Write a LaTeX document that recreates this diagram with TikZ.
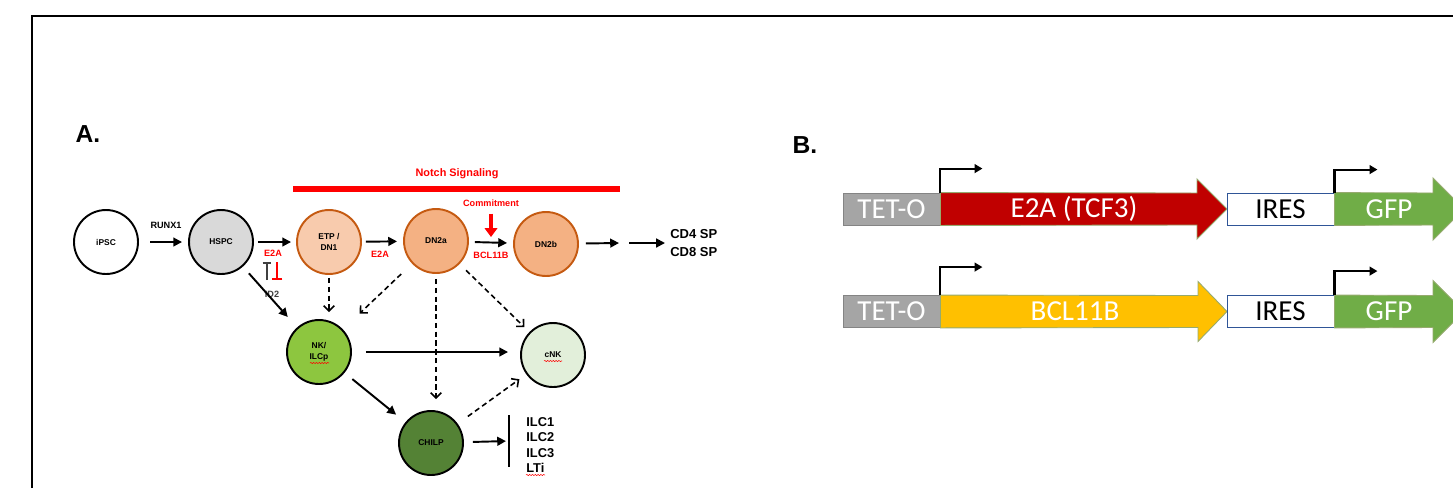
\documentclass[tikz,border=0pt]{standalone}
\usepackage{fontspec}
\setmainfont{Liberation Sans}
\newfontfamily\calibri{Carlito}
\usetikzlibrary{arrows.meta,decorations.pathmorphing}

\definecolor{hspcgray}{RGB}{217,217,217}
\definecolor{etpfill}{RGB}{248,203,173}
\definecolor{dnfill}{RGB}{244,177,131}
\definecolor{dnborder}{RGB}{197,90,17}
\definecolor{nkgreen}{RGB}{141,198,63}
\definecolor{cnkgreen}{RGB}{226,239,218}
\definecolor{chilpgreen}{RGB}{84,130,53}
\definecolor{tetgray}{RGB}{165,165,165}
\definecolor{e2ared}{RGB}{192,0,0}
\definecolor{bclyellow}{RGB}{255,192,0}
\definecolor{gfpgreen}{RGB}{112,173,71}
\definecolor{iresblue}{RGB}{47,85,151}
\definecolor{arrowline}{RGB}{150,170,110}

\begin{document}
\begin{tikzpicture}[x=0.02cm, y=-0.02cm,
    cell/.style={circle, draw, line width=1.1pt, minimum size=1.28cm, inner sep=0pt, align=center, font=\fontsize{4.8}{6}\selectfont\bfseries},
    flow/.style={line width=1.1pt, -{Triangle[length=5pt,width=5pt]}},
    maybe/.style={line width=0.9pt, dash pattern=on 3pt off 2pt, -{Straight Barb[length=3pt,width=6pt]}},
    lbl/.style={font=\fontsize{5.2}{6}\selectfont\bfseries},
    redlbl/.style={lbl, text=red},
    part/.style={minimum height=0.64cm, inner sep=0pt, font=\calibri\fontsize{16.5}{18}\selectfont},
    box/.style={part, draw, line width=0.5pt},
    gene/.style={draw=arrowline, line width=0.5pt},
    promoter/.style={line width=1.2pt, -{Triangle[length=4.5pt,width=5pt]}},
    squiggle/.style={red, line width=0.3pt, decorate, decoration={snake, amplitude=0.35pt, segment length=1.6pt}}
  ]
  \fill[white] (0,0) rectangle (1453,488);
  \useasboundingbox (0,0) rectangle (1453,488);
  \draw[line width=1.1pt] (32,488) -- (32,16) -- (1453,16);

  % panel A
  \node[font=\fontsize{14}{16}\selectfont\bfseries] (panela) at (88,134) {A.};
  \node[cell] (ipsc) at (106,242) {iPSC};
  \node[cell, fill=hspcgray] (hspc) at (221,242) {HSPC};
  \node[cell, fill=etpfill, draw=dnborder] (etp) at (329,242) {ETP /\\DN1};
  \node[cell, fill=dnfill, draw=dnborder] (dn2a) at (436,241) {DN2a};
  \node[cell, fill=dnfill, draw=dnborder] (dn2b) at (546,244) {DN2b};
  \node[cell, fill=nkgreen] (nk) at (319,352) {NK/\\ILCp};
  \node[cell, fill=cnkgreen] (cnk) at (553,355) {cNK};
  \node[cell, fill=chilpgreen] (chilp) at (431,443) {CHILP};

  \fill[red] (293,186) rectangle (620,192);
  \node[redlbl, font=\fontsize{6.2}{7}\selectfont\bfseries] (notch) at (457,174) {Notch Signaling};
  \node[redlbl] (commit) at (491,203) {Commitment};
  \coordinate (commitpt) at (491,237);
  \draw[red, line width=1.8pt, shorten <=0.02cm, -{Triangle[length=5pt,width=7pt]}] (commit) -- (commitpt);

  \draw[flow, shorten <=0.23cm, shorten >=0.12cm] (ipsc) -- (hspc);
  \draw[flow, shorten <=0.08cm, shorten >=0.1cm] (hspc) -- (etp);
  \draw[flow, shorten <=0.08cm, shorten >=0.12cm] (etp) -- (dn2a);
  \draw[flow, shorten <=0.12cm, shorten >=0.12cm] (dn2a) -- (dn2b);
  \coordinate (out1) at (619,243);
  \coordinate (out2) at (629,243);
  \node[lbl, font=\fontsize{7.4}{9.7}\selectfont\bfseries, align=left, anchor=west, inner sep=0pt] (tcell) at (670,243) {CD4 SP\\CD8 SP};
  \draw[flow, shorten <=0.14cm] (dn2b) -- (out1);
  \draw[flow, shorten >=0.1cm] (out2) -- (tcell);

  \node[lbl] (runx1) at (166,225) {RUNX1};
  \node[redlbl] (e2a1) at (273,253) {E2A};
  \node[redlbl] (e2a2) at (380,254) {E2A};
  \node[redlbl] (bcl11b) at (491,255) {BCL11B};
  \node[lbl, text=black!75] (id2) at (272,294) {ID2};
  \draw[black!75, line width=1pt, -{Bar[width=5pt]}] (267,280) -- (267,262);
  \draw[red, line width=1pt, -{Bar[width=6pt]}] (277,262) -- (277,280);

  \draw[maybe, shorten <=0.06cm, shorten >=0.14cm] (etp.south) -- (etp.south |- nk.north);
  \draw[maybe, shorten <=0.3cm, shorten >=0.46cm] (dn2a) -- (nk);
  \draw[maybe, shorten <=0.1cm, shorten >=0.22cm] (dn2a.south) -- (dn2a.south |- chilp.north);
  \draw[maybe, shorten <=0.18cm, shorten >=0.14cm] (dn2a) -- (cnk);
  \draw[maybe, shorten <=0.25cm, shorten >=0.17cm] (chilp) -- (cnk);

  \draw[flow, shorten <=0.18cm, shorten >=0.28cm] (hspc) -- (nk);
  \draw[flow, shorten <=0.28cm, shorten >=0.24cm] (nk) -- (nk -| cnk.west);
  \draw[flow, shorten <=0.2cm, shorten >=0.24cm] (nk) -- (chilp);
  \coordinate (ilcbar) at (509,441);
  \draw[flow, shorten <=0.18cm, shorten >=0.06cm] (chilp) -- (ilcbar);
  \draw[line width=1.1pt] (509,415) -- (509,467);
  \node[lbl, font=\fontsize{7.3}{8.8}\selectfont\bfseries, align=left, anchor=west, inner sep=0pt] (ilcs) at (526,445) {ILC1\\ILC2\\ILC3\\LTi};

  % spell-check marks
  \draw[squiggle] (310,363) -- (329,363);
  \draw[squiggle] (544,361) -- (562,361);
  \draw[squiggle] (526,475) -- (545,475);

  % panel B
  \node[font=\fontsize{14}{16}\selectfont\bfseries] (panelb) at (805,145) {B.};

  \node[box, draw=tetgray!80!black, fill=tetgray, text=white, minimum width=1.94cm] (teto1) at (891.5,209) {TET-O};
  \draw[gene, fill=e2ared] (teto1.north east) -- (1197,193) -- (1197,179) -- (1227,209) -- (1197,239) -- (1197,225) -- (teto1.south east) -- cycle;
  \node[part, text=white] (e2a) at (1074,209) {E2A (TCF3)};
  \node[box, draw=iresblue, fill=white, minimum width=2.14cm] (ires1) at (1280.5,209) {IRES};
  \draw[gene, fill=gfpgreen] (ires1.north east) -- (1433,193) -- (1433,178) -- (1464,209) -- (1433,240) -- (1433,225) -- (ires1.south east) -- cycle;
  \node[part, text=white] (gfp1) at (1389,209) {GFP};
  \draw[promoter] (teto1.north east) |- ++(42,-24);
  \draw[promoter] (ires1.north east) |- ++(43,-23);

  \node[box, draw=tetgray!80!black, fill=tetgray, text=white, minimum width=1.94cm] (teto2) at (891.5,311.5) {TET-O};
  \draw[gene, fill=bclyellow] (teto2.north east) -- (1198,295.5) -- (1198,281.5) -- (1227,311.5) -- (1198,341.5) -- (1198,327.5) -- (teto2.south east) -- cycle;
  \node[part, text=white] (bcl) at (1075,311.5) {BCL11B};
  \node[box, draw=iresblue, fill=white, minimum width=2.14cm] (ires2) at (1280.5,311.5) {IRES};
  \draw[gene, fill=gfpgreen] (ires2.north east) -- (1433,295.5) -- (1433,280.5) -- (1464,311.5) -- (1433,342.5) -- (1433,327.5) -- (ires2.south east) -- cycle;
  \node[part, text=white] (gfp2) at (1389,311.5) {GFP};
  \draw[promoter] (teto2.north east) |- ++(42,-28);
  \draw[promoter] (ires2.north east) |- ++(43,-24);
\end{tikzpicture}
\end{document}
